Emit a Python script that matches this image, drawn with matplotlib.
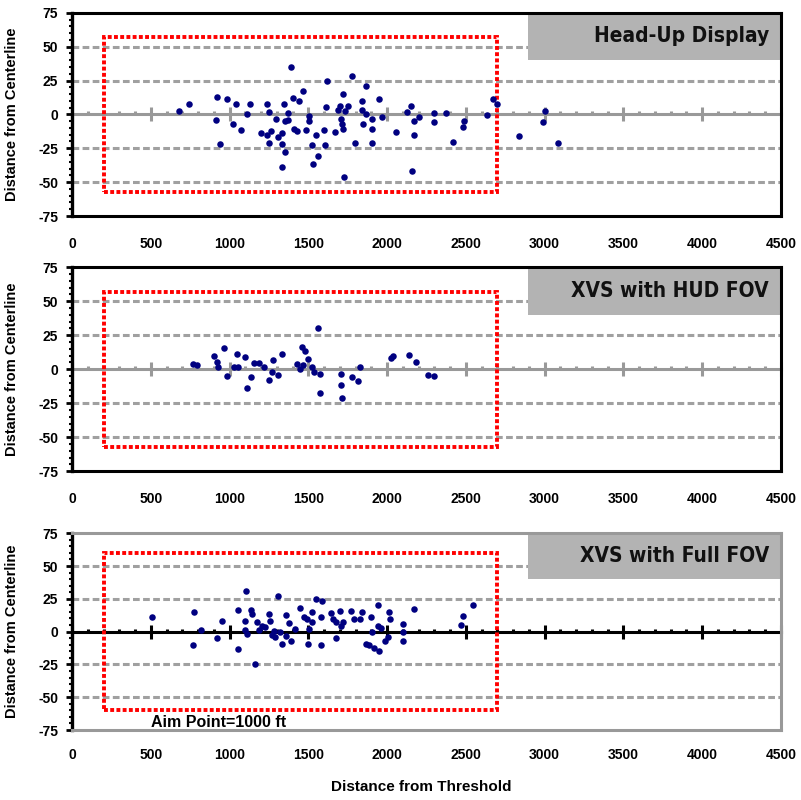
import matplotlib
matplotlib.use('Agg')
import matplotlib.pyplot as plt
from matplotlib import font_manager
from matplotlib.patches import Rectangle
from matplotlib.ticker import MultipleLocator

# Head-Up Display touchdown points (distance from threshold ft, distance from centerline ft)
hud_x = [678, 745, 923, 917, 940, 985, 1038, 1023, 1074, 1114, 1133, 1197, 1237, 1252,
         1266, 1237, 1252, 1298, 1309, 1334, 1347, 1351, 1368, 1330, 1351, 1334, 1387,
         1372, 1400, 1438, 1468, 1412, 1429, 1485, 1504, 1504, 1552, 1523, 1559, 1529,
         1601, 1609, 1620, 1615, 1779, 1868, 1722, 1703, 1690, 1753, 1736, 1707, 1711,
         1722, 1669, 1796, 1724, 1842, 1838, 1864, 1849, 1902, 1906, 1902, 1949, 1966,
         2054, 2152, 2124, 2173, 2203, 2173, 2156, 2300, 2300, 2372, 2421, 2489, 2484,
         2635, 2673, 2696, 2838, 3000, 2990, 3084]
hud_y = [2.4, 7.4, 13, -4.4, -22, 11, 8, -7.4, -11.5, 0, 8, -13.5, 8, 1.7,
         -12, -15.4, -21, -3.7, -16.4, -13.5, 7.4, -4.9, -4.4, -22, -28, -39, 35,
         1.2, 12, 10, 17.4, -11, -12, -11.8, -1.2, -4.9, -15.4, -22.6, -30.6, -36.8,
         -11.5, -22.8, 24.5, 5.5, 28.7, 21.3, 15.2, 6, 3.2, 6, 2.5, -3.7, -7.4,
         -10.5, -13, -21.3, -46.5, 9.8, 3.2, 0, -7.4, -3.7, -11, -21.3, 11.5, -1.7,
         -13, 6, 1.7, -4.9, -1.7, -15.4, -41.7, 0.7, -5.7, 1.2, -20.4, -4.9, -9,
         -0.7, 11.5, 8, -16.2, 2.4, -5.7, -20.8]

# XVS with HUD field of view
xvs_hud_x = [769, 796, 902, 923, 928, 966, 987, 1050, 1029, 1055, 1097, 1112, 1139, 1156,
             1186, 1220, 1250, 1277, 1271, 1309, 1330, 1431, 1457, 1478, 1447, 1563, 1495,
             1467, 1525, 1538, 1576, 1576, 1707, 1707, 1715, 1775, 1817, 1830, 2025, 2035,
             2141, 2181, 2262, 2300]
xvs_hud_y = [4.1, 3.2, 9.7, 5.6, 1.7, 15.8, -4.9, 11.5, 1.7, 1.7, 9, -13.9, -5.6, 4.9,
             4.9, 1.7, -8, 6.6, -2.4, -4.1, 11.5, 3.6, 16.3, 13.4, 0, 30, 7.3,
             3.2, 1.7, -2.4, -3.6, -17.8, -3.2, -11.4, -21, -5.6, -8.5, 1.7, 8, 9.7,
             10.4, 5.6, -4.4, -5.1]

# XVS with full field of view
xvs_full_x = [505, 777, 770, 817, 949, 919, 1056, 1052, 1103, 1099, 1099, 1109, 1137, 1141,
              1163, 1173, 1184, 1205, 1222, 1252, 1258, 1269, 1280, 1307, 1290, 1322, 1333,
              1361, 1380, 1359, 1389, 1413, 1448, 1471, 1493, 1503, 1500, 1546, 1521, 1525,
              1587, 1582, 1579, 1646, 1657, 1678, 1700, 1707, 1721, 1673, 1768, 1789, 1831,
              1842, 1895, 1864, 1886, 1903, 1945, 1945, 1960, 1918, 1950, 1988, 2003, 2010,
              2019, 2103, 2103, 2103, 2168, 2469, 2484, 2543]
xvs_full_y = [10.9, 15.2, -9.9, 1.5, 8.4, -5.1, 16.5, -13, 30.7, 8.4, 1.5, -1.8, 16.5, 13.5,
              -24.6, 7, 1.5, 4.6, 3.3, 13.5, 8.4, -2.5, 0.8, 27, -4.3, -0.5, -9.4,
              12.7, 6.6, -3.0, -6.9, 2, 18.3, 11.4, 9.7, 2, -9.4, 24.9, 14.7, 7,
              23.6, 10.9, -10.1, 14.2, 9.7, 7, 16, 4.6, 7, -5.1, 16, 9.7, 9.7,
              14.7, 10.9, -9.4, -10.1, -0.5, 20.3, 4, 2.5, -12.7, -14.5, -6.9, -4.3, 15.2,
              9.7, 5.8, -0.5, -6.9, 17.3, 5.1, 11.7, 20.3]

titles = ['Head-Up Display', 'XVS with HUD FOV', 'XVS with Full FOV']
zone_start, zone_end = 200, 2700
zone_half = [57, 57, 60]

plt.rcParams['font.family'] = ['Liberation Sans', 'DejaVu Sans']
plt.rcParams['axes.unicode_minus'] = False

# a condensed bold face for the panel titles, if one is installed
title_font = dict(family=['Liberation Sans', 'DejaVu Sans'], fontsize=16)
for f in font_manager.fontManager.ttflist:
    if f.stretch in ('condensed', 'semi-condensed') and 'Sans' in f.name and f.weight in (700, 'bold'):
        title_font = dict(family=[f.name, 'DejaVu Sans'], fontstretch=f.stretch, fontsize=15)
        break

fig = plt.figure(figsize=(8.01, 8.0), dpi=100)

# axes rectangles in figure fractions (left, bottom, width, height)
rects = [(0.0899, 0.730, 0.885, 0.254),
         (0.0899, 0.411, 0.885, 0.255),
         (0.0899, 0.0875, 0.885, 0.246)]
series = [(hud_x, hud_y), (xvs_hud_x, xvs_hud_y), (xvs_full_x, xvs_full_y)]

for i, (rect, (xs, ys), title) in enumerate(zip(rects, series, titles)):
    ax = fig.add_axes(rect)
    ax.set_xlim(0, 4500)
    ax.set_ylim(-75, 75)
    last = i == 2

    for g in (-50, -25, 25, 50):
        ax.axhline(g, color='#a0a0a0', lw=2.2, dashes=(2.2, 1.1), zorder=1)

    # landing zone box
    ax.add_patch(Rectangle((zone_start, -zone_half[i]), zone_end - zone_start, 2 * zone_half[i],
                           fill=False, edgecolor='red', lw=2.8, linestyle=(0, (1, 0.6)),
                           zorder=2.6))

    ax.scatter(xs, ys, s=22, color='#000080', linewidths=0, zorder=3)

    # title box
    ax.add_patch(Rectangle((0.643, 0.768), 0.357, 0.232, transform=ax.transAxes,
                           facecolor='#b3b3b3', edgecolor='none', zorder=2))
    ax.text(0.983, 0.885, title, transform=ax.transAxes, ha='right', va='center',
            fontweight='bold', color='#111111', zorder=4, **title_font)

    # centerline with distance ticks
    cl_color = 'black' if last else '#999999'
    sec = ax.secondary_xaxis(0.5)
    sec.spines['top'].set_color(cl_color)
    sec.spines['top'].set_linewidth(2.2)
    sec.set_xticks(range(0, 4501, 500))
    sec.xaxis.set_minor_locator(MultipleLocator(100))
    sec.tick_params(which='major', direction='inout', length=10, width=2.2,
                    color=cl_color, labeltop=False)
    sec.tick_params(which='minor', direction='out', length=2.5, width=2.2, color=cl_color)

    # frame
    frame = '#999999' if last else 'black'
    for side in ('top', 'right', 'bottom'):
        ax.spines[side].set_color(frame)
        ax.spines[side].set_linewidth(2.2)
    ax.spines['left'].set_color('black')
    ax.spines['left'].set_linewidth(2.4)

    ax.set_yticks(range(-75, 76, 25))
    ax.yaxis.set_minor_locator(MultipleLocator(5))
    ax.tick_params(axis='y', which='major', length=4, width=2, labelsize=10, pad=6)
    ax.tick_params(axis='y', which='minor', length=2.5, width=1.5)
    ax.set_xticks(range(0, 4501, 500))
    ax.tick_params(axis='x', which='both', length=0, labelsize=10, pad=15 if not last else 13)
    for lab in ax.get_xticklabels() + ax.get_yticklabels():
        lab.set_fontweight('bold')

    ax.set_ylabel('Distance from Centerline', fontsize=10.5, fontweight='bold')
    ax.yaxis.set_label_coords(-0.075, 0.5)

    if last:
        ax.text(500, -69, 'Aim Point=1000 ft', ha='left', va='center',
                fontsize=11.5, fontweight='bold', zorder=4)

fig.text(0.526, 1 - 787 / 800, 'Distance from Threshold', ha='center', va='center',
         fontsize=11, fontweight='bold')

fig.savefig('out.png', dpi=100)
